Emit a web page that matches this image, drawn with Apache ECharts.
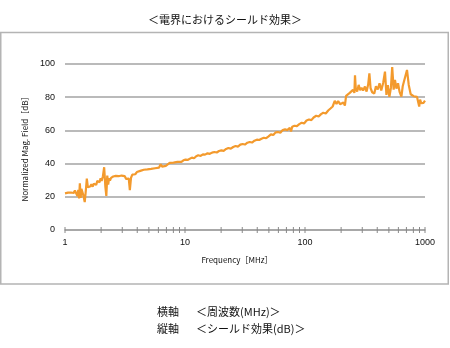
<!DOCTYPE html>
<html>
<head>
<meta charset="utf-8">
<script src="https://cdn.jsdelivr.net/npm/echarts@6/dist/echarts.min.js"></script>
<style>
  html, body { margin: 0; padding: 0; background: #fff; }
  #chart { width: 450px; height: 348px; }
</style>
</head>
<body>
<div id="chart"></div>
<script>
// Measured shielding effect of the electric field versus frequency
const freqMHz = [
  1.00, 1.03, 1.06, 1.09, 1.12, 1.15, 1.18, 1.21, 1.24, 1.27, 1.29, 1.31, 1.33, 1.35, 1.37, 1.40,
  1.43, 1.46, 1.49, 1.52, 1.55, 1.58, 1.62, 1.66, 1.70, 1.74, 1.78, 1.82, 1.86, 1.90, 1.94, 1.98,
  2.02, 2.07, 2.12, 2.17, 2.21, 2.25, 2.29, 2.33, 2.37, 2.42, 2.47, 2.52, 2.58, 2.65, 2.72, 2.80,
  2.88, 2.96, 3.05, 3.14, 3.23, 3.32, 3.40, 3.47, 3.55, 3.64, 3.74, 3.85, 3.97, 4.10, 4.24, 4.38,
  4.53, 4.69, 4.86, 5.03, 5.22, 5.42, 5.63, 5.85, 6.08, 6.27, 6.45, 6.68, 6.92, 7.18, 7.45, 7.73,
  8.02, 8.33, 8.65, 8.98, 9.33, 9.70, 10.1, 10.5, 10.9, 11.4, 11.9, 12.4, 12.9, 13.5, 14.1, 14.7,
  15.4, 16.1, 16.8, 17.6, 18.4, 19.2, 20.1, 21.0, 22.0, 23.0, 24.1, 25.2, 26.4, 27.6, 28.9, 30.2,
  31.6, 33.1, 34.6, 36.2, 37.9, 39.7, 41.5, 43.4, 45.4, 47.5, 49.7, 52.0, 54.4, 56.9, 59.5, 62.3,
  65.2, 68.2, 71.4, 74.7, 76.5, 78.2, 81.8, 85.6, 89.6, 93.8, 98.2, 103, 108, 113, 118, 124,
  130, 136, 142, 149, 156, 163, 170, 177, 183, 189, 196, 203, 209, 215, 220, 228,
  236, 244, 251, 258, 261, 265, 272, 280, 288, 296, 305, 316, 326, 336, 344, 352,
  363, 378, 390, 404, 418, 432, 448, 464, 477, 490, 505, 520, 533, 548, 562, 578,
  596, 614, 636, 652, 672, 708, 732, 760, 780, 805, 832, 858, 880, 895, 910, 930,
  950, 972, 1000
];
const fieldDb = [
  22.1, 23.2, 22.5, 23.0, 22.6, 23.5, 22.3, 23.8, 22.6, 20.4, 24.2, 19.0, 28.2, 19.3, 24.8, 22.6,
  20.1, 16.8, 23.5, 31.0, 25.8, 27.0, 26.2, 27.6, 26.1, 27.9, 28.8, 27.2, 29.6, 30.4, 28.8, 31.2,
  29.6, 32.4, 37.8, 26.0, 20.5, 32.8, 27.4, 31.2, 29.8, 31.4, 30.6, 32.2, 31.4, 32.6, 31.8, 32.4,
  31.2, 32.8, 31.9, 32.5, 30.8, 31.6, 30.9, 24.0, 31.5, 33.4, 32.4, 33.6, 34.9, 34.4, 35.6, 35.2,
  36.3, 35.9, 36.5, 36.2, 36.8, 36.6, 37.2, 37.0, 37.6, 39.6, 38.2, 38.8, 38.6, 39.6, 40.4, 39.8,
  40.6, 40.2, 41.0, 41.4, 41.0, 42.0, 42.4, 42.2, 43.0, 43.6, 43.2, 44.4, 45.0, 44.6, 45.6, 45.4,
  46.2, 45.9, 46.6, 47.0, 46.7, 47.6, 48.0, 47.7, 48.8, 49.4, 49.0, 50.0, 50.6, 50.2, 51.4, 51.8,
  51.5, 52.6, 53.0, 52.7, 53.8, 54.4, 54.2, 55.0, 55.6, 55.3, 56.4, 57.6, 57.2, 58.8, 59.0, 58.6,
  60.2, 60.6, 60.2, 61.6, 59.4, 62.2, 62.8, 62.6, 63.8, 64.6, 64.2, 66.0, 66.6, 66.2, 67.8, 68.8,
  68.4, 69.8, 70.6, 70.2, 72.0, 73.2, 74.4, 77.8, 76.0, 77.6, 75.8, 75.4, 76.8, 75.0, 80.8, 81.8,
  82.6, 83.0, 84.4, 82.6, 93.2, 85.0, 83.4, 87.4, 84.2, 85.6, 84.0, 86.4, 83.4, 87.6, 94.4, 85.4,
  83.0, 82.2, 86.6, 84.6, 88.4, 84.0, 88.6, 95.4, 81.4, 87.2, 80.2, 85.6, 98.2, 84.6, 90.4, 85.2,
  88.4, 83.2, 80.4, 86.6, 90.2, 96.4, 87.4, 81.8, 82.4, 80.6, 81.0, 80.2, 76.6, 74.4, 78.6, 76.4,
  77.2, 76.6, 77.9
];

// Axis ticks: decades with their 2..9 subdivisions
const tickValues = [
  1, 2, 3, 4, 5, 6, 7, 8, 9,
  10, 20, 30, 40, 50, 60, 70, 80, 90,
  100, 200, 300, 400, 500, 600, 700, 800, 900,
  1000
];
const yTicks = { min: 0, max: 100, step: 20 };

const chartTitle = '＜電界におけるシールド効果＞';
const xName = 'Frequency［MHz］';
const yName = 'Normalized Mag. Field［dB］';
const legendRows = [
  ['横軸', '＜周波数(MHz)＞'],
  ['縦軸', '＜シールド効果(dB)＞']
];

const LATIN = '"Liberation Sans", Arial, sans-serif';
const CJK = '"Noto Sans CJK JP", sans-serif';
const GRID_GREY = '#a3a3a3';

const series = freqMHz.map((f, i) => [f, fieldDb[i]]);

const chart = echarts.init(document.getElementById('chart'), null, { renderer: 'canvas' });

chart.setOption({
  animation: false,
  backgroundColor: '#ffffff',
  title: {
    text: chartTitle,
    left: 'center',
    top: 9,
    textStyle: { fontFamily: CJK, fontSize: 11, fontWeight: 'normal', color: '#111' }
  },
  graphic: [
    {
      type: 'rect',
      shape: { x: 0.75, y: 32.5, width: 447.5, height: 251.5 },
      style: { fill: 'none', stroke: '#b4b4b4', lineWidth: 1.5 },
      silent: true
    },
    ...legendRows.flatMap((row, r) => [
      {
        type: 'text',
        left: 157,
        top: 306 + r * 17,
        style: { text: row[0], font: '11px ' + CJK, fill: '#111' }
      },
      {
        type: 'text',
        left: 196,
        top: 306 + r * 17,
        style: { text: row[1], font: '11px ' + CJK, fill: '#111' }
      }
    ])
  ],
  grid: { left: 65, right: 25, top: 64, bottom: 118 },
  xAxis: {
    type: 'log',
    logBase: 10,
    min: 1,
    max: 1000,
    name: xName,
    nameLocation: 'middle',
    nameGap: 26,
    nameTextStyle: { fontFamily: CJK, fontSize: 8, color: '#111', padding: [0, 16, 0, 0] },
    axisLine: { show: true, lineStyle: { color: GRID_GREY, width: 1.5 } },
    axisTick: { show: false },
    splitLine: { show: false },
    axisLabel: {
      fontFamily: LATIN, fontSize: 9, color: '#111', margin: 8,
      formatter: v => String(Math.round(v))
    }
  },
  yAxis: {
    type: 'value',
    min: yTicks.min,
    max: yTicks.max,
    interval: yTicks.step,
    name: yName,
    nameLocation: 'middle',
    nameGap: 33,
    nameTextStyle: { fontFamily: CJK, fontSize: 8, color: '#111' },
    axisLine: { show: false },
    axisTick: { show: false },
    splitLine: { show: true, lineStyle: { color: GRID_GREY, width: 1.5 } },
    axisLabel: { fontFamily: LATIN, fontSize: 9, color: '#111', margin: 10 }
  },
  series: [
    {
      type: 'line',
      data: series,
      showSymbol: false,
      symbol: 'none',
      lineStyle: { color: '#f39a2d', width: 2.2 },
      itemStyle: { color: '#f39a2d' },
      z: 3
    },
    {
      type: 'custom',
      data: tickValues.map(v => [v, 0]),
      clip: false,
      silent: true,
      z: 2,
      renderItem: function (params, api) {
        const p = api.coord([api.value(0), api.value(1)]);
        return {
          type: 'line',
          shape: { x1: p[0], y1: p[1] - 3, x2: p[0], y2: p[1] + 3 },
          style: { stroke: '#888', lineWidth: 1 }
        };
      }
    }
  ]
});
</script>
</body>
</html>
